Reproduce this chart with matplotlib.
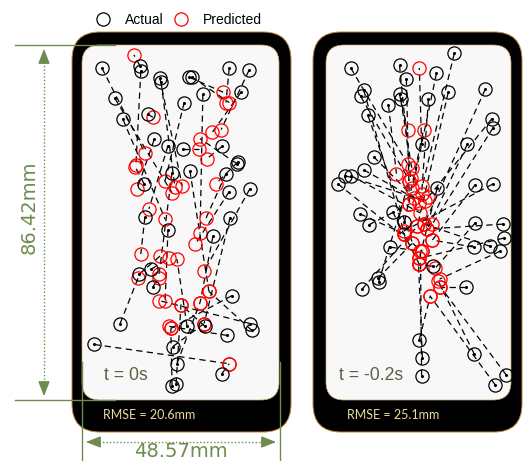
import numpy as np
import matplotlib.pyplot as plt
from matplotlib.patches import FancyBboxPatch
from matplotlib.lines import Line2D

W, H = 530, 461
SCREEN_W, SCREEN_H = 48.57, 86.42

# touch positions in mm, origin at the top-left corner of the screen
t0_actual_x = [4.9, 14.3, 14.5, 19.2, 19.5, 26.4, 27.1, 36.3, 41.2, 8.1, 10.1, 29.8, 39.2, 25.2, 16.3, 21.2,
               17.8, 24.9, 34.5, 38.5, 15.3, 22.2, 26.6, 35.5, 38.2, 36.3, 41.4, 36.5, 32.3, 21.2, 15.5, 14.1,
               17.0, 17.5, 9.4, 3.0, 37.0, 25.9, 30.3, 35.8, 41.4, 41.9, 22.4, 23.4, 34.5, 22.2, 23.2]
t0_actual_y = [5.6, 5.1, 6.4, 8.1, 9.1, 7.8, 7.8, 5.6, 6.1, 13.0, 18.1, 12.0, 11.5, 14.0, 16.9, 24.5,
               23.0, 25.2, 24.7, 28.4, 33.8, 31.1, 30.6, 31.3, 28.9, 35.7, 35.0, 42.1, 46.5, 45.0, 41.9, 55.8,
               54.6, 58.8, 67.8, 72.9, 61.0, 68.5, 68.5, 70.7, 67.8, 69.5, 73.4, 77.6, 80.0, 83.0, 82.5]
t0_pred_x = [15.5, 12.8, 13.3, 24.7, 22.9, 34.8, 36.3, 35.5, 34.3, 22.2, 20.5, 29.1, 32.1, 20.5, 17.5, 16.5,
             13.6, 28.9, 30.8, 33.0, 13.1, 19.0, 31.3, 30.6, 29.1, 27.9, 30.1, 30.1, 29.1, 20.5, 14.5, 19.2,
             21.5, 19.0, 13.8, 36.3, 21.9, 23.4, 24.4, 21.5, 19.0, 31.3, 30.1, 29.1, 36.3, 21.9, 24.4]
t0_pred_y = [26.2, 2.4, 29.1, 34.3, 34.5, 11.5, 14.0, 14.0, 20.6, 36.0, 42.4, 45.8, 21.3, 33.0, 17.6, 39.9,
             35.0, 25.2, 27.7, 33.8, 29.6, 55.8, 60.0, 42.1, 22.8, 48.5, 55.1, 67.8, 62.7, 62.2, 50.9, 51.4,
             51.9, 56.8, 56.8, 77.6, 69.0, 52.1, 63.2, 68.5, 62.2, 60.0, 67.8, 62.7, 77.6, 69.0, 63.2]

t2_actual_x = [6.5, 19.3, 21.1, 29.0, 33.7, 32.1, 41.8, 9.9, 9.1, 19.3, 19.6, 16.4, 26.9, 11.0, 43.6, 43.9,
               25.1, 37.1, 12.5, 9.9, 5.0, 6.5, 3.1, 29.2, 39.2, 43.9, 17.5, 8.9, 11.2, 20.6, 16.7, 39.2,
               46.5, 46.7, 38.9, 43.1, 45.7, 28.2, 13.6, 9.4, 13.8, 36.8, 24.5, 25.3, 25.1, 38.9, 44.4, 47.3]
t2_actual_y = [5.6, 4.9, 8.3, 6.9, 2.0, 11.5, 10.8, 11.0, 12.5, 12.0, 13.2, 14.7, 13.2, 17.1, 17.9, 20.1,
               24.2, 24.2, 27.2, 30.4, 31.8, 31.8, 33.8, 34.8, 34.0, 33.8, 40.6, 41.1, 43.8, 43.1, 49.2, 43.3,
               43.6, 47.0, 49.2, 49.0, 50.2, 53.9, 56.8, 59.5, 57.8, 58.8, 71.7, 76.1, 80.5, 75.2, 82.7, 80.3]
t2_pred_x = [21.4, 22.2, 21.9, 22.7, 25.3, 24.0, 25.8, 20.6, 21.9, 21.4, 22.5, 18.5, 25.1, 22.7, 26.9, 27.9,
             24.5, 26.6, 24.5, 23.0, 26.1, 24.8, 25.3, 24.5, 27.9, 20.4, 24.5, 20.6, 21.9, 25.6, 25.3, 28.7,
             26.6, 24.5, 27.9, 25.8, 29.8, 24.3, 22.7, 24.0, 21.9, 30.0, 27.4, 24.3, 24.8, 29.5, 27.4, 30.0]
t2_pred_y = [28.9, 32.3, 38.7, 34.8, 34.3, 44.1, 43.6, 46.0, 33.0, 20.6, 29.9, 31.3, 36.2, 48.2, 37.0, 43.6,
             5.6, 44.8, 38.4, 37.2, 37.9, 40.9, 50.2, 51.9, 47.5, 45.3, 53.4, 46.0, 38.7, 20.6, 50.2, 54.3,
             44.8, 51.9, 47.5, 43.6, 57.0, 53.4, 48.2, 44.1, 33.0, 58.8, 61.0, 53.4, 50.2, 57.5, 61.2, 58.8]

panels = [
    dict(label="t = 0s", rmse=20.6, ax_=t0_actual_x, ay_=t0_actual_y, px_=t0_pred_x, py_=t0_pred_y,
         outer=(72, 32, 291, 432), screen=(82, 45, 279, 400)),
    dict(label="t = -0.2s", rmse=25.1, ax_=t2_actual_x, ay_=t2_actual_y, px_=t2_pred_x, py_=t2_pred_y,
         outer=(313, 32, 522, 432), screen=(326, 45, 511, 400)),
]

DIM = "#6e8c4e"
LABEL = "#5d6244"
RMSE_C = "#e6dc9e"

fig = plt.figure(figsize=(W / 100, H / 100), dpi=100)
canvas = fig.add_axes([0, 0, 1, 1])
canvas.set_xlim(0, W)
canvas.set_ylim(H, 0)
canvas.axis("off")

for p in panels:
    x0, y0, x1, y1 = p["outer"]
    canvas.add_patch(FancyBboxPatch((x0, y0), x1 - x0, y1 - y0,
                                    boxstyle="round,pad=0,rounding_size=28",
                                    fc="black", ec="#b8853a", lw=0.7))
    sx0, sy0, sx1, sy1 = p["screen"]
    canvas.add_patch(FancyBboxPatch((sx0, sy0), sx1 - sx0, sy1 - sy0,
                                    boxstyle="round,pad=0,rounding_size=18",
                                    fc="#f8f8f8", ec="#c9a870", lw=0.5))
    canvas.text(sx0 + 21, 415, f"RMSE = {p['rmse']}mm", color=RMSE_C, fontsize=9,
                family="Lato", va="center", ha="left")

    # one axes per screen, in mm
    ax = fig.add_axes([sx0 / W, 1 - sy1 / H, (sx1 - sx0) / W, (sy1 - sy0) / H])
    ax.set_xlim(0, SCREEN_W)
    ax.set_ylim(SCREEN_H, 0)
    ax.patch.set_alpha(0)
    ax.axis("off")
    for a, b, c, d in zip(p["ax_"], p["ay_"], p["px_"], p["py_"]):
        ax.plot([a, c], [b, d], color="black", lw=0.9, ls=(0, (5, 3.5)), zorder=1)
    ax.plot(p["px_"], p["py_"], ls="none", marker="o", ms=9.5, mfc="none", mec="red", mew=0.9, zorder=2)
    ax.plot(p["ax_"], p["ay_"], ls="none", marker="o", ms=9.5, mfc="none", mec="black", mew=0.9, zorder=3)
    ax.plot(p["ax_"], p["ay_"], ls="none", marker="o", ms=1.2, color="black", zorder=3)
    ax.text(0.11 if p["label"] == "t = 0s" else 0.07, 0.07, p["label"], transform=ax.transAxes,
            fontsize=12.7, color=LABEL, family="Liberation Sans", va="center", ha="left")

# height dimension
sx0, sy0, sx1, sy1 = panels[0]["screen"]
for yy in (sy0, sy1):
    canvas.plot([15, 115], [yy, yy], color=DIM, lw=1)
canvas.plot([44, 44], [sy0 + 10, sy1 - 10], color=DIM, lw=1, ls=(0, (1, 1.5)))
canvas.annotate("", xy=(44, sy0 + 1), xytext=(44, sy0 + 14),
                arrowprops=dict(arrowstyle="-|>,head_length=0.9,head_width=0.35", color=DIM, lw=1))
canvas.annotate("", xy=(44, sy1 - 1), xytext=(44, sy1 - 14),
                arrowprops=dict(arrowstyle="-|>,head_length=0.9,head_width=0.35", color=DIM, lw=1))
canvas.text(29, 207, f"{SCREEN_H:.2f}mm", rotation=90, color=DIM, fontsize=14,
            family="Liberation Sans Narrow", ha="center", va="center")

# width dimension
for xx in (sx0, sx1 + 1):
    canvas.plot([xx, xx], [362, H], color=DIM, lw=1)
canvas.plot([sx0 + 10, sx1 - 10], [442, 442], color=DIM, lw=1, ls=(0, (1, 1.5)))
canvas.annotate("", xy=(sx0 + 1, 442), xytext=(sx0 + 14, 442),
                arrowprops=dict(arrowstyle="-|>,head_length=0.9,head_width=0.35", color=DIM, lw=1))
canvas.annotate("", xy=(sx1, 442), xytext=(sx1 - 13, 442),
                arrowprops=dict(arrowstyle="-|>,head_length=0.9,head_width=0.35", color=DIM, lw=1))
canvas.text((sx0 + sx1) / 2, 451, f"{SCREEN_W:.2f}mm", color=DIM, fontsize=14,
            family="Liberation Sans Narrow", ha="center", va="center")

handles = [Line2D([], [], ls="none", marker="o", ms=9.5, mfc="none", mec="black", mew=0.9),
           Line2D([], [], ls="none", marker="o", ms=9.5, mfc="none", mec="red", mew=0.9)]
fig.legend(handles, ["Actual", "Predicted"], ncol=2, loc="center left",
           bbox_to_anchor=(96 / W, 1 - 20 / H), frameon=False, handlelength=1.0,
           handletextpad=1.05, columnspacing=0.8, borderpad=0, borderaxespad=0,
           prop=dict(family="Liberation Sans", size=10))

fig.savefig("out.png", dpi=100)
